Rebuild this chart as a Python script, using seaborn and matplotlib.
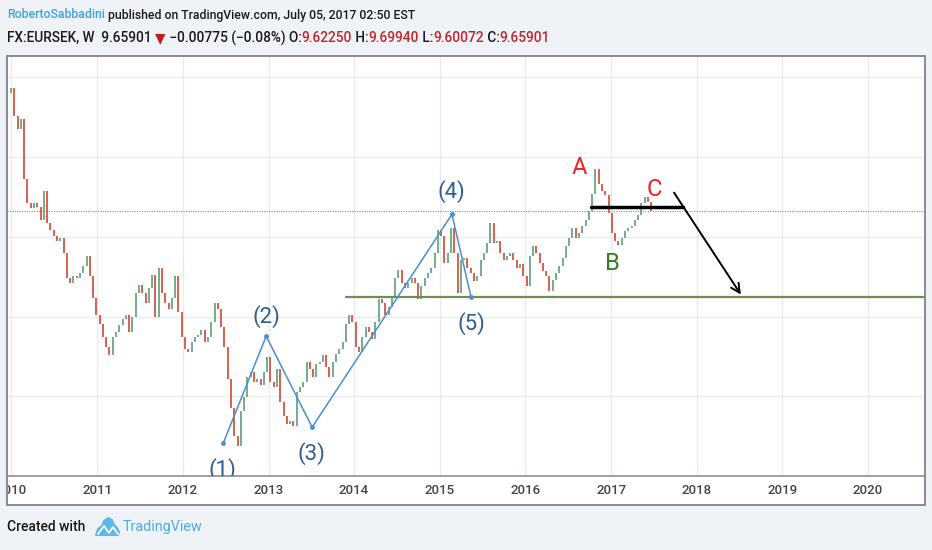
import matplotlib
matplotlib.use("Agg")
import matplotlib.pyplot as plt
import matplotlib.transforms as mtrans
from matplotlib.patches import Rectangle, Polygon
import seaborn as sns
import numpy as np
import pandas as pd

# EURSEK, 2-week closes
closes = [10.436, 10.255, 10.175, 10.237, 9.864, 9.709, 9.678, 9.709, 9.690, 9.603,
          9.790, 9.585, 9.541, 9.504, 9.473, 9.492, 9.398, 9.243, 9.212, 9.256,
          9.243, 9.274, 9.318, 9.380, 9.256, 9.119, 9.007, 8.951, 8.871, 8.809,
          8.759, 8.871, 8.902, 8.945, 8.982, 9.007, 8.902, 8.995, 9.150, 9.200,
          9.150, 9.088, 9.181, 9.262, 8.995, 9.305, 9.150, 9.088, 9.045, 9.119,
          9.256, 9.026, 8.871, 8.796, 8.777, 8.840, 8.871, 8.883, 8.914, 8.840,
          8.871, 8.964, 9.088, 9.045, 8.933, 8.809, 8.610, 8.424, 8.250, 8.188,
          8.405, 8.498, 8.622, 8.653, 8.591, 8.610, 8.573, 8.653, 8.746, 8.591,
          8.560, 8.672, 8.467, 8.374, 8.324, 8.343, 8.312, 8.529, 8.560, 8.591,
          8.715, 8.672, 8.622, 8.703, 8.715, 8.759, 8.684, 8.622, 8.715, 8.765,
          8.796, 8.840, 8.951, 9.007, 8.964, 8.809, 8.777, 8.871, 8.933, 8.902,
          8.858, 8.964, 9.107, 9.088, 9.007, 9.057, 9.131, 9.243, 9.293, 9.212,
          9.181, 9.212, 9.243, 9.212, 9.107, 9.194, 9.243, 9.274, 9.305, 9.398,
          9.541, 9.504, 9.336, 9.398, 9.554, 9.398, 9.150, 9.355, 9.367, 9.305,
          9.274, 9.225, 9.256, 9.355, 9.398, 9.461, 9.585, 9.461, 9.473, 9.398,
          9.355, 9.380, 9.398, 9.355, 9.305, 9.330, 9.256, 9.194, 9.380, 9.442,
          9.398, 9.336, 9.287, 9.256, 9.163, 9.231, 9.274, 9.318, 9.367, 9.442,
          9.492, 9.554, 9.492, 9.523, 9.566, 9.603, 9.659, 9.771, 9.926, 9.833,
          9.790, 9.765, 9.647, 9.523, 9.473, 9.448, 9.492, 9.535, 9.554, 9.566,
          9.603, 9.634, 9.709, 9.752, 9.721, 9.659]
first_open = 10.40
start_date = "2009-12-30"

# Elliott wave drawing
wave_labels = ["(1)", "(2)", "(3)", "(4)", "(5)"]
wave_dates = ["2012-06-22", "2012-12-22", "2013-07-06", "2015-02-22", "2015-05-14"]
wave_prices = [8.206, 8.877, 8.306, 9.641, 9.125]
wave_label_offsets = [(-1, -26), (0, 20), (-1, -26), (-1, 23), (1, -27)]

abc_labels = ["A", "B", "C"]
abc_dates = ["2016-08-17", "2017-01-05", "2017-07-02"]
abc_prices = [9.933, 9.330, 9.796]
abc_colors = ["#f22020", "#3b7a22", "#f22020"]

last_price = 9.659
support_price = 9.125
support_start = "2013-11-28"
neck_dates = ["2016-10-07", "2017-11-03"]
neck_price = 9.684
arrow_from = ("2017-09-26", 9.777)
arrow_to = ("2018-07-08", 9.138)

years = list(range(2010, 2021))
price_grid = [8.0, 8.5, 9.0, 9.5, 10.0, 10.5]

UP = "#6ba583"
DOWN = "#d75442"
BG = "#eff2f7"
NARROW = ["Liberation Sans Narrow", "Roboto", "DejaVu Sans"]

sns.set_theme(style="white")
plt.rcParams["font.family"] = NARROW

W, H = 932, 550
fig = plt.figure(figsize=(W / 100, H / 100), dpi=100, facecolor=BG)

# white panel behind chart + date strip, and its frame
fig.add_artist(Rectangle((7 / W, 1 - 505 / H), 918 / W, 449 / H, transform=fig.transFigure,
                         facecolor="white", edgecolor="none", zorder=0))
fig.add_artist(Rectangle((7 / W, 1 - 505 / H), 918 / W, 449 / H, transform=fig.transFigure,
                         facecolor="none", edgecolor="#868c94", lw=1.4, zorder=5))

ax = fig.add_axes([7 / W, 1 - 476 / H, 918 / W, 420 / H])
ax.set_facecolor("white")

dates = pd.date_range(start_date, periods=len(closes), freq="14D")
opens = [first_open] + closes[:-1]
o = np.array(opens)
c = np.array(closes)
lo = np.minimum(o, c)
hi = np.maximum(np.maximum(o, c), lo + 0.006)
cols = [UP if cc >= oo else DOWN for oo, cc in zip(o, c)]
ax.vlines(dates, lo, hi, colors=cols, lw=1.3, zorder=3)

# grid
ax.set_xlim(pd.Timestamp("2009-12-13"), pd.Timestamp("2020-08-31"))
ax.set_ylim(8.026, 10.634)
ax.set_xticks([pd.Timestamp(f"{y}-01-01") for y in years])
ax.set_yticks(price_grid)
ax.grid(True, color="#e8ebef", lw=1)
ax.tick_params(axis="y", length=0, labelleft=False)
ax.tick_params(axis="x", direction="out", length=3.5, color="#8a9098", labelbottom=False)
for s in ["left", "right", "top"]:
    ax.spines[s].set_visible(False)
ax.spines["bottom"].set_color("#8a9098")
ax.spines["bottom"].set_linewidth(1.2)

renderer = fig.canvas.get_renderer()

clip_rect = Rectangle((7 / W, 0), 918 / W, 1, transform=fig.transFigure)
for y in years:
    t = ax.text(pd.Timestamp(f"{y}-01-01"), -14 / 420, str(y), transform=ax.get_xaxis_transform(),
                ha="center", va="center", fontsize=9.5, color="#444444", fontweight="medium")
    t.set_clip_on(True)
    t.set_clip_path(clip_rect)

# horizontal levels
ax.axhline(last_price, color="#4fa39b", ls=(0, (1, 1.2)), lw=0.8, zorder=2)
ax.plot([pd.Timestamp(support_start), pd.Timestamp("2021-06-01")], [support_price] * 2,
        color="#718c55", lw=1.6, zorder=4)
ax.plot(pd.to_datetime(neck_dates), [neck_price] * 2, color="black", lw=2.5, zorder=5)
ax.annotate("", xy=(pd.Timestamp(arrow_to[0]), arrow_to[1]),
            xytext=(pd.Timestamp(arrow_from[0]), arrow_from[1]),
            arrowprops=dict(arrowstyle="->", color="black", lw=1.4, mutation_scale=16,
                            shrinkA=0, shrinkB=0), zorder=5)

# wave count
wave_df = pd.DataFrame({"date": pd.to_datetime(wave_dates), "price": wave_prices})
sns.lineplot(data=wave_df, x="date", y="price", sort=False, color="#4a8fd0", lw=1.1,
             marker="o", markersize=3.5, markeredgewidth=0, ax=ax, zorder=6)
ax.set_xlabel("")
ax.set_ylabel("")
for lab, d, p, off in zip(wave_labels, wave_dates, wave_prices, wave_label_offsets):
    ax.annotate(lab, xy=(pd.Timestamp(d), p), xytext=off, textcoords="offset pixels",
                ha="center", va="center", fontsize=16, color="#2c5f93",
                family=["Roboto", "DejaVu Sans"], clip_on=True, zorder=7)

for lab, d, p, col in zip(abc_labels, abc_dates, abc_prices, abc_colors):
    ax.text(pd.Timestamp(d), p, lab, ha="center", va="center", fontsize=17, color=col,
            family=["Roboto", "DejaVu Sans"], zorder=7)

# header
ident = mtrans.IdentityTransform()


def chain(parts, x, y, size, target=None, weight="medium"):
    texts = []
    x0 = x
    for s, col in parts:
        t = fig.text(x, H - y, s, color=col, fontsize=size, ha="left", va="center",
                     transform=ident, fontweight=weight)
        texts.append(t)
        x = t.get_window_extent(renderer).x1
    if target is not None and abs((x - x0) - target) > 2:
        for t in texts:
            t.remove()
        return chain(parts, x0, y, size * target / (x - x0), weight=weight)
    return size


RED = "#c2262b"
hsize = chain([("RobertoSabbadini", "#3ba5e0"),
               (" published on TradingView.com, July 05, 2017 02:50 EST", "#1a1a1a")],
              7, 15, 10, target=410)
chain([("FX:EURSEK, W  9.65901 ", "#1a1a1a"), ("▼", "#c81818"),
       (" \u22120.00775 (\u22120.08%) O:", "#1a1a1a"), ("9.62250", RED),
       (" H:", "#1a1a1a"), ("9.69940", RED), (" L:", "#1a1a1a"), ("9.60072", RED),
       (" C:", "#1a1a1a"), ("9.65901", RED)], 7, 38, hsize, target=540)

# footer
fsize = chain([("Created with", "#1a1a1a")], 7, 527, 10, target=78)
cloud = [(96, 535), (98, 529), (102, 526), (104, 521), (108, 518), (112, 520),
         (114, 525), (117, 528), (119, 532), (118, 535)]
fig.add_artist(Polygon([(x / W, 1 - y / H) for x, y in cloud], closed=True,
                       transform=fig.transFigure, facecolor="#5db8e6", edgecolor="#5db8e6",
                       lw=1.5, joinstyle="round"))
fig.add_artist(plt.Line2D([x / W for x in (98, 104, 109, 113, 118)],
                          [1 - y / H for y in (534, 526, 533, 527, 534)],
                          transform=fig.transFigure, color="white", lw=1.3))
chain([("TradingView", "#4aaee6")], 123, 527, fsize, target=80, weight="normal")

fig.savefig("out.png", dpi=100, facecolor=BG)
